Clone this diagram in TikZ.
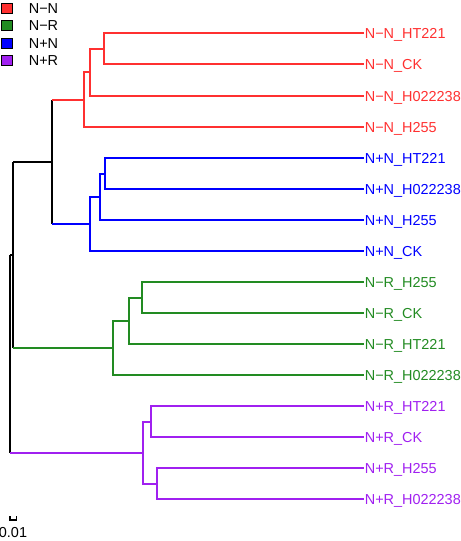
\documentclass[tikz,border=0pt]{standalone}
\usepackage{fontspec}
\setmainfont{Liberation Sans}
\usetikzlibrary{calc}

\definecolor{nnred}{RGB}{255,48,48}
\definecolor{nrgreen}{RGB}{34,139,34}
\definecolor{pnblue}{RGB}{0,0,255}
\definecolor{prpurple}{RGB}{160,32,240}

\begin{document}
\begin{tikzpicture}[x=1bp, y=-1bp, line width=1.7bp,
        leaf_style/.style={anchor=west, inner sep=0pt, font=\fontsize{14.5}{16}\selectfont, text height=10.4bp, text depth=0pt},
        key_style/.style={draw=black, line width=1.1bp, minimum width=11bp, minimum height=10bp, inner sep=0pt},
        key_text_style/.style={anchor=west, inner sep=0pt, font=\fontsize{14.5}{16}\selectfont, text height=10.4bp, text depth=0pt},
        root_edge/.style={draw=black},
        nn_edge/.style={draw=nnred},
        pn_edge/.style={draw=pnblue},
        nr_edge/.style={draw=nrgreen},
        pr_edge/.style={draw=prpurple}]

        \useasboundingbox (0,0) rectangle (461,541);

        % legend
        \node [key_style, fill=nnred] (k_nn) at (7,8.3) {};
        \node [key_text_style] (t_nn) at (28,8.3) {N−N};
        \node [key_style, fill=nrgreen] (k_nr) at (7,25.8) {};
        \node [key_text_style] (t_nr) at (28,25.8) {N−R};
        \node [key_style, fill=pnblue] (k_pn) at (7,43.3) {};
        \node [key_text_style] (t_pn) at (28,43.3) {N+N};
        \node [key_style, fill=prpurple] (k_pr) at (7,60.8) {};
        \node [key_text_style] (t_pr) at (28,60.8) {N+R};

        % leaves
        \node [leaf_style, text=nnred] (nn1) at (364,33) {N−N\_HT221};
        \node [leaf_style, text=nnred] (nn2) at (364,64) {N−N\_CK};
        \node [leaf_style, text=nnred] (nn3) at (364,96) {N−N\_H022238};
        \node [leaf_style, text=nnred] (nn4) at (364,127) {N−N\_H255};

        \node [leaf_style, text=pnblue] (pn1) at (364,158) {N+N\_HT221};
        \node [leaf_style, text=pnblue] (pn2) at (364,189) {N+N\_H022238};
        \node [leaf_style, text=pnblue] (pn3) at (364,220) {N+N\_H255};
        \node [leaf_style, text=pnblue] (pn4) at (364,251) {N+N\_CK};

        \node [leaf_style, text=nrgreen] (nr1) at (364,282) {N−R\_H255};
        \node [leaf_style, text=nrgreen] (nr2) at (364,313) {N−R\_CK};
        \node [leaf_style, text=nrgreen] (nr3) at (364,344) {N−R\_HT221};
        \node [leaf_style, text=nrgreen] (nr4) at (364,375) {N−R\_H022238};

        \node [leaf_style, text=prpurple] (pr1) at (364,406) {N+R\_HT221};
        \node [leaf_style, text=prpurple] (pr2) at (364,437) {N+R\_CK};
        \node [leaf_style, text=prpurple] (pr3) at (364,468) {N+R\_H255};
        \node [leaf_style, text=prpurple] (pr4) at (364,499) {N+R\_H022238};

        % inner nodes
        \coordinate (r1) at (104,49);
        \coordinate (r2) at (90,72);
        \coordinate (r3) at (84,100);
        \coordinate (b1) at (105,174);
        \coordinate (b2) at (100,197);
        \coordinate (b3) at (90,224);
        \coordinate (g1) at (142,298);
        \coordinate (g2) at (129,321);
        \coordinate (g3) at (113,348);
        \coordinate (v1) at (151,422);
        \coordinate (v2) at (157,484);
        \coordinate (v3) at (143,453);
        \coordinate (k1) at (52,162);
        \coordinate (k2) at (13,255);
        \coordinate (k0) at (10,354);

        \draw [nn_edge] (r1) |- (nn1);
        \draw [nn_edge] (r1) |- (nn2);
        \draw [nn_edge] (r2) |- (r1);
        \draw [nn_edge] (r2) |- (nn3);
        \draw [nn_edge] (r3) |- (r2);
        \draw [nn_edge] (r3) |- (nn4);

        \draw [pn_edge] (b1) |- (pn1);
        \draw [pn_edge] (b1) |- (pn2);
        \draw [pn_edge] (b2) |- (b1);
        \draw [pn_edge] (b2) |- (pn3);
        \draw [pn_edge] (b3) |- (b2);
        \draw [pn_edge] (b3) |- (pn4);

        \draw [nr_edge] (g1) |- (nr1);
        \draw [nr_edge] (g1) |- (nr2);
        \draw [nr_edge] (g2) |- (g1);
        \draw [nr_edge] (g2) |- (nr3);
        \draw [nr_edge] (g3) |- (g2);
        \draw [nr_edge] (g3) |- (nr4);

        \draw [pr_edge] (v1) |- (pr1);
        \draw [pr_edge] (v1) |- (pr2);
        \draw [pr_edge] (v2) |- (pr3);
        \draw [pr_edge] (v2) |- (pr4);
        \draw [pr_edge] (v3) |- (v1);
        \draw [pr_edge] (v3) |- (v2);

        % backbone
        \draw [root_edge] (k1 |- r3) -- (k1 |- b3);
        \draw [nn_edge] (k1 |- r3) -- (r3);
        \draw [pn_edge] (k1 |- b3) -- (b3);
        \draw [root_edge] (k2 |- k1) -- (k2 |- g3);
        \draw [root_edge] (k2 |- k1) -- (k1);
        \draw [nr_edge] (k2 |- g3) -- (g3);
        \draw [root_edge] (k0 |- k2) -- (k0 |- v3);
        \draw [root_edge] (k0 |- k2) -- (k2);
        \draw [pr_edge] (k0 |- v3) -- (v3);

        % scale bar
        \coordinate (s1) at (10,516);
        \coordinate (s2) at (16.5,516);
        \draw [root_edge, line width=1.4bp] (s1) -- ++(0,4) -| (s2);
        \node [font=\fontsize{14.5}{16}\selectfont, inner sep=0pt] (scale) at (13,533) {0.01};

\end{tikzpicture}
\end{document}
